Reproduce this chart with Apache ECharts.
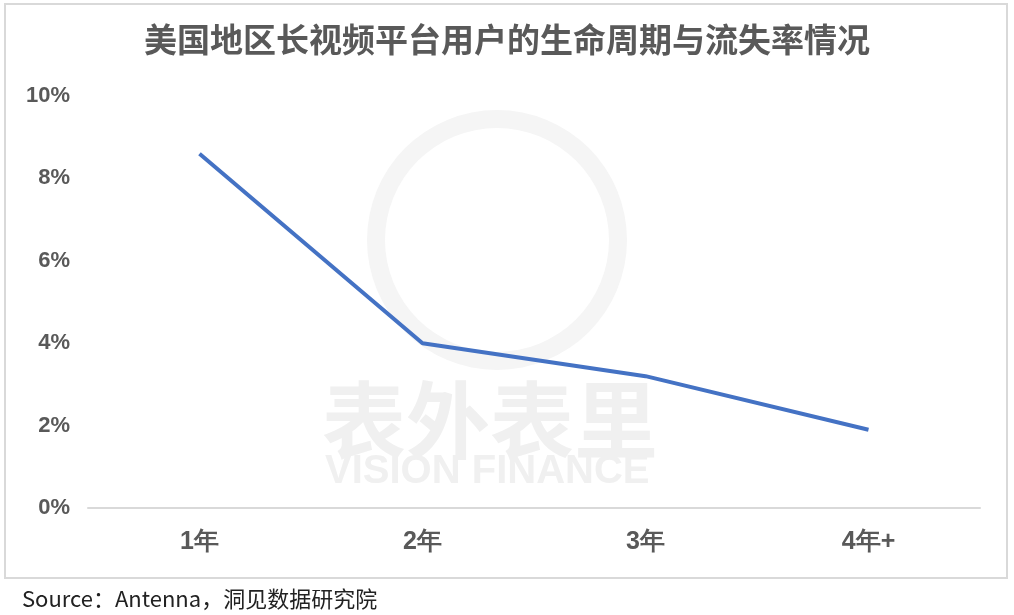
<!DOCTYPE html>
<html>
<head>
<meta charset="utf-8">
<script src="https://cdn.jsdelivr.net/npm/echarts@6/dist/echarts.min.js"></script>
<style>html,body{margin:0;padding:0;background:#fff;}#c{width:1014px;height:615px;}</style>
</head>
<body>
<div id="c"></div>
<script>
var categories = ['1年', '2年', '3年', '4年+'];
var churnRate = [8.6, 4.0, 3.2, 1.9];
var yTicks = [0, 2, 4, 6, 8, 10];
var titleText = '美国地区长视频平台用户的生命周期与流失率情况';
var sourceText = 'Source：Antenna，洞见数据研究院';

var chart = echarts.init(document.getElementById('c'));
chart.setOption({
  backgroundColor: '#fff',
  animation: false,
  title: {
    text: titleText,
    left: 'center',
    top: 18,
    textStyle: {fontSize: 33, fontWeight: 'bold', color: '#595959', fontFamily: 'Noto Sans CJK SC'}
  },
  graphic: [
    {type: 'rect', shape: {x: 5, y: 4, width: 1002, height: 574}, style: {fill: 'none', stroke: '#d9d9d9', lineWidth: 2}, z: -10},
    {type: 'ring', shape: {cx: 497, cy: 240, r: 130, r0: 112}, style: {fill: '#f5f5f5'}, z: -5},
    {type: 'text', left: 322, top: 378, style: {text: '表外表里', fill: '#f0f0f0', fontSize: 84, fontWeight: 'bold', fontFamily: 'Noto Sans CJK SC'}, z: -5},
    {type: 'text', left: 325, top: 452, style: {text: 'VISION FINANCE', fill: '#f0f0f0', fontSize: 40, fontWeight: 'bold', fontFamily: 'Liberation Sans'}, z: -5},
    {type: 'text', left: 22, top: 588, style: {text: sourceText, fill: '#222', fontSize: 22, fontFamily: 'Noto Sans CJK SC'}}
  ],
  grid: {left: 88, right: 34, top: 96, bottom: 107, containLabel: false},
  xAxis: {
    type: 'category',
    data: categories,
    boundaryGap: true,
    axisLine: {lineStyle: {color: '#d9d9d9', width: 2}},
    axisTick: {show: false},
    axisLabel: {fontSize: 25, fontWeight: 'bold', color: '#595959', margin: 22, fontFamily: 'Liberation Sans'}
  },
  yAxis: {
    type: 'value',
    min: yTicks[0],
    max: yTicks[yTicks.length - 1],
    interval: 2,
    axisLine: {show: false},
    axisTick: {show: false},
    splitLine: {show: false},
    axisLabel: {formatter: '{value}%', fontSize: 22, fontWeight: 'bold', color: '#595959', margin: 18, fontFamily: 'Liberation Sans'}
  },
  series: [{
    type: 'line',
    data: churnRate,
    symbol: 'none',
    lineStyle: {color: '#4472C4', width: 4}
  }]
});
</script>
</body>
</html>
